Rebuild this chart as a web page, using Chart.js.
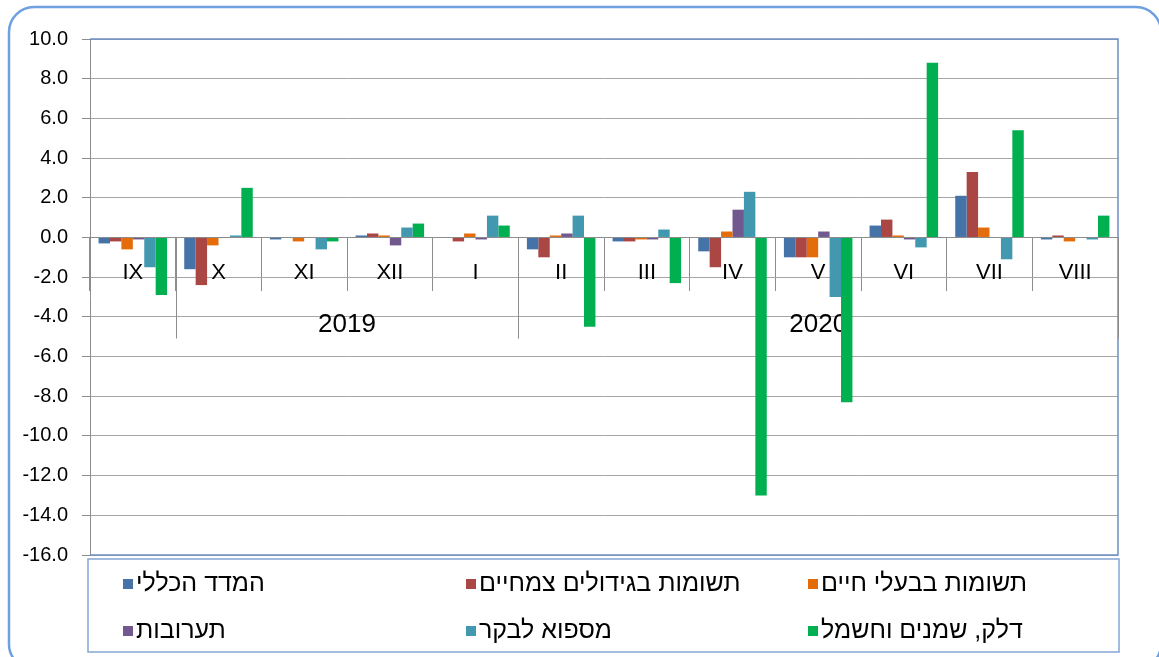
<!DOCTYPE html>
<html>
<head>
<meta charset="utf-8">
<script src="https://cdn.jsdelivr.net/npm/chart.js@4"></script>
<style>
  html, body { margin: 0; padding: 0; background: #ffffff; }
  #wrap { width: 1159px; height: 657px; position: relative; }
</style>
</head>
<body>
<div id="wrap"><canvas id="c" width="1159" height="657"></canvas></div>
<script>
// ---- data ----
const months = ['IX', 'X', 'XI', 'XII', 'I', 'II', 'III', 'IV', 'V', 'VI', 'VII', 'VIII'];
const yearGroups = ['2019', '2020'];
const yearGroupFirst = [1, 5];   // first category index of each year group
const yearGroupLast = [4, 11];   // last category index of each year group

const seriesNames = [
  'המדד הכללי',
  'תשומות בגידולים צמחיים',
  'תשומות בבעלי חיים',
  'תערובות',
  'מספוא לבקר',
  'דלק, שמנים וחשמל'
];
const generalIndex   = [-0.3, -1.6, -0.1,  0.1,  0.0, -0.6, -0.2, -0.7, -1.0,  0.6,  2.1, -0.1];
const cropInputs     = [-0.2, -2.4,  0.0,  0.2, -0.2, -1.0, -0.2, -1.5, -1.0,  0.9,  3.3,  0.1];
const livestockInput = [-0.6, -0.4, -0.2,  0.1,  0.2,  0.1, -0.1,  0.3, -1.0,  0.1,  0.5, -0.2];
const feedMixes      = [-0.1,  0.0,  0.0, -0.4, -0.1,  0.2, -0.1,  1.4,  0.3, -0.1,  0.0,  0.0];
const cattleFodder   = [-1.5,  0.1, -0.6,  0.5,  1.1,  1.1,  0.4,  2.3, -3.0, -0.5, -1.1, -0.1];
const fuelOilPower   = [-2.9,  2.5, -0.2,  0.7,  0.6, -4.5, -2.3, -13.0, -8.3, 8.8,  5.4,  1.1];

const yMin = -16, yMax = 10, yStep = 2;

// ---- styles ----
const colors = ['#4572A7', '#AA4643', '#E46C0A', '#71588F', '#4198AF', '#00B050'];
const FONT = '"Liberation Sans", Arial, "DejaVu Sans", sans-serif';
const gridGray = '#A6A6A6';
const axisGray = '#8C8C8C';
const plotBlue = '#6F8FC4';
const legendBlue = '#86A5D6';
const outerBlue = '#6FA0E0';

const allSeries = [generalIndex, cropInputs, livestockInput, feedMixes, cattleFodder, fuelOilPower];

const datasets = allSeries.map((vals, i) => ({
  label: seriesNames[i],
  data: vals,
  backgroundColor: colors[i],
  borderWidth: 0,
  categoryPercentage: 0.8,
  barPercentage: 1.0
}));

// ---- custom plugin: frame, plot border, year groups, legend ----
const decor = {
  id: 'decor',
  beforeDraw(chart) {
    const ctx = chart.ctx;
    ctx.save();
    ctx.fillStyle = '#ffffff';
    ctx.fillRect(0, 0, chart.width, chart.height);
    // outer rounded frame
    ctx.strokeStyle = outerBlue;
    ctx.lineWidth = 2.5;
    ctx.beginPath();
    ctx.roundRect(9, 7, 1152, 662, 25);
    ctx.stroke();
    ctx.restore();
  },
  beforeDatasetsDraw(chart) {
    const ctx = chart.ctx;
    const a = chart.chartArea;
    const xs = chart.scales.x, ys = chart.scales.y;
    ctx.save();
    // plot-area border (top, right, bottom)
    ctx.strokeStyle = plotBlue;
    ctx.lineWidth = 1.5;
    ctx.beginPath();
    ctx.moveTo(a.left, a.top);
    ctx.lineTo(a.right, a.top);
    ctx.lineTo(a.right, a.bottom);
    ctx.lineTo(a.left, a.bottom);
    ctx.stroke();
    // year group dividers and labels
    const zeroY = ys.getPixelForValue(0);
    const half = (xs.getPixelForValue(1) - xs.getPixelForValue(0)) / 2;
    ctx.strokeStyle = axisGray;
    ctx.lineWidth = 1;
    const drawDiv = (x) => {
      ctx.beginPath();
      ctx.moveTo(Math.round(x) + 0.5, zeroY);
      ctx.lineTo(Math.round(x) + 0.5, zeroY + 101);
      ctx.stroke();
    };
    ctx.fillStyle = '#000';
    ctx.font = '26px ' + FONT;
    ctx.textAlign = 'center';
    ctx.textBaseline = 'middle';
    yearGroups.forEach((lab, g) => {
      const x1 = xs.getPixelForValue(yearGroupFirst[g]) - half;
      const x2 = xs.getPixelForValue(yearGroupLast[g]) + half;
      drawDiv(x1);
      drawDiv(x2);
      ctx.fillText(lab, (x1 + x2) / 2, zeroY + 87);
    });
    ctx.restore();
  },
  afterDraw(chart) {
    const ctx = chart.ctx;
    ctx.save();
    // legend box
    const bx = 88, by = 559, bw = 1031, bh = 93;
    ctx.strokeStyle = legendBlue;
    ctx.lineWidth = 1.5;
    ctx.strokeRect(bx, by, bw, bh);
    const colX = [123, 466, 808];
    const rowY = [583, 630];
    ctx.font = '25px ' + FONT;
    ctx.textBaseline = 'middle';
    ctx.textAlign = 'left';
    ctx.direction = 'rtl';
    chart.data.datasets.forEach((ds, i) => {
      const r = Math.floor(i / 3), c = i % 3;
      const x = colX[c], y = rowY[r];
      ctx.fillStyle = ds.backgroundColor;
      ctx.fillRect(x, y - 4, 10, 10);
      ctx.fillStyle = '#000';
      ctx.fillText(ds.label, x + 13, y + 1);
    });
    ctx.restore();
  }
};

new Chart(document.getElementById('c'), {
  type: 'bar',
  data: { labels: months, datasets },
  plugins: [decor],
  options: {
    responsive: false,
    animation: false,
    devicePixelRatio: 1,
    layout: { padding: { top: 39, right: 41, bottom: 102, left: 0 } },
    plugins: {
      legend: { display: false },
      title: { display: false },
      tooltip: { enabled: false }
    },
    scales: {
      x: {
        position: { y: 0 },
        offset: true,
        grid: {
          offset: true,
          drawOnChartArea: false,
          drawTicks: true,
          tickLength: 53,
          tickColor: axisGray,
          color: axisGray,
          lineWidth: 1
        },
        border: { display: true, color: axisGray, width: 1 },
        ticks: {
          autoSkip: false,
          maxRotation: 0,
          padding: -31,
          color: '#000',
          font: { family: FONT, size: 22 }
        }
      },
      y: {
        min: yMin,
        max: yMax,
        afterFit(scale) { scale.width = 90; },
        afterBuildTicks(scale) {
          const t = [];
          for (let v = yMin; v <= yMax; v += yStep) t.push({ value: v });
          scale.ticks = t;
        },
        grid: {
          color: gridGray,
          lineWidth: 1,
          drawTicks: true,
          tickLength: 8,
          tickColor: axisGray
        },
        border: { display: true, color: axisGray, width: 1 },
        ticks: {
          padding: 14,
          color: '#000',
          font: { family: FONT, size: 20 },
          callback: (v) => Number(v).toFixed(1)
        }
      }
    }
  }
});
</script>
</body>
</html>
